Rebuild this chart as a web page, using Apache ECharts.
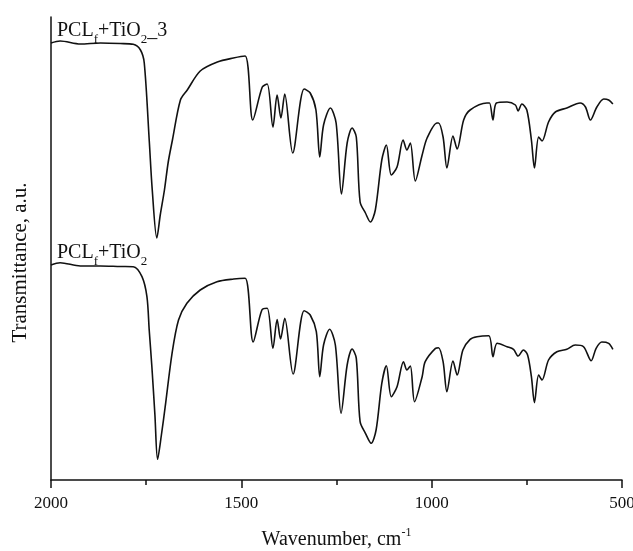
<!DOCTYPE html>
<html>
<head>
<meta charset="utf-8">
<script src="https://cdn.jsdelivr.net/npm/echarts@6/dist/echarts.min.js"></script>
<style>
  html, body { margin: 0; padding: 0; background: #fff; }
  #main { width: 633px; height: 551px; }
</style>
</head>
<body>
<div id="main"></div>
<script>
// FTIR spectra, wavenumber (cm-1) vs transmittance (a.u., offset traces)
var wnTop = [2000, 1976, 1923, 1870, 1818, 1784, 1765, 1755, 1742, 1734, 1722, 1713, 1702, 1692, 1681,
  1660, 1642, 1608, 1563, 1521, 1490, 1470, 1445, 1432, 1417, 1406, 1396, 1386, 1365, 1335, 1319,
  1304, 1294, 1284, 1266, 1251, 1237, 1222, 1209, 1198, 1188, 1174, 1161, 1148, 1131, 1119, 1106,
  1091, 1075, 1065, 1056, 1043, 1025, 1012, 986, 982, 970, 960, 944, 933, 916, 899, 855, 848, 839,
  830, 802, 780, 773, 763, 750, 738, 730, 719, 710, 693, 675, 645, 610, 596, 583, 566, 548, 535, 524];
var tTop = [437, 439, 436, 437, 436.5, 435.7, 430, 417, 340, 290, 242, 265, 290, 318, 340,
  380, 390, 409, 418, 422, 424, 360, 393, 396, 353, 385, 362, 386, 327, 391, 387,
  370, 323, 355, 372, 357, 286, 337, 352, 343, 278, 267, 258, 270, 320, 335, 305,
  313, 340, 330, 337, 299, 325, 342, 357, 357, 343, 312, 344, 331, 360, 370, 377, 377, 360,
  377, 378, 375, 369, 376, 370, 340, 312, 343, 339, 358, 368, 372, 377, 373, 360, 373, 381, 380, 376];

var wnBottom = [2000, 1976, 1923, 1870, 1818, 1784, 1761, 1748, 1742, 1735, 1727, 1720, 1710, 1700, 1682,
  1665, 1643, 1608, 1564, 1520, 1490, 1469, 1446, 1432, 1417, 1406, 1397, 1386, 1364, 1335, 1319,
  1303, 1294, 1284, 1268, 1253, 1238, 1222, 1209, 1198, 1188, 1174, 1159, 1146, 1131, 1119, 1106,
  1091, 1074, 1065, 1056, 1045, 1025, 1017, 990, 982, 970, 960, 944, 933, 918, 899, 881, 850, 839,
  828, 802, 785, 773, 759, 748, 738, 730, 719, 710, 693, 671, 645, 623, 601, 581, 568, 553, 535, 524];
var tBottom = [215, 217.3, 214, 214, 213.5, 213.3, 203.3, 183.3, 150, 113.3, 65, 20.7, 45, 73.3, 126.7,
  160, 176.7, 190, 198.3, 201, 201.7, 138, 170, 171.7, 131.7, 160.5, 141, 161.7, 106, 169.3, 165,
  148.3, 103.3, 135, 150.7, 135, 66.7, 115, 131, 121.7, 58.3, 46.7, 36.7, 50, 96.7, 114.3, 83.3,
  93.3, 118.3, 110, 114, 78.3, 103.3, 118.3, 131.7, 132.3, 118.3, 88.3, 119, 105, 130, 140.7, 143.3, 144.3, 123.3,
  136.7, 133.3, 130.7, 124, 130, 125, 103.3, 77.3, 105, 100, 120, 128.3, 130.7, 135, 133.3, 119.3, 131.7, 138, 136.7, 130.7];

var seriesNames = ['PCLf+TiO2_3', 'PCLf+TiO2'];
var seriesLabels = ['{n|PCL}{s|f}{n|+TiO}{s|2}{n|_3}', '{n|PCL}{s|f}{n|+TiO}{s|2}'];

var serif = 'Liberation Serif, Times New Roman, serif';

function pairs(xs, ys) {
  return xs.map(function (x, i) { return [x, ys[i]]; });
}

function makeSeries(idx, xs, ys) {
  return {
    name: seriesNames[idx],
    type: 'line',
    showSymbol: false,
    symbol: 'none',
    smooth: 0.3,
    lineStyle: { color: '#111', width: 1.6 },
    data: pairs(xs, ys),
    markPoint: {
      symbol: 'circle',
      symbolSize: 0,
      data: [{ coord: [xs[0], ys[0]] }],
      label: {
        show: true,
        position: [6, 0],
        align: 'left',
        verticalAlign: 'bottom',
        formatter: seriesLabels[idx],
        rich: {
          n: { fontFamily: serif, fontSize: 20, color: '#111', lineHeight: 22, verticalAlign: 'top' },
          s: { fontFamily: serif, fontSize: 13, color: '#111', lineHeight: 13, padding: [12, 0, 0, 0], verticalAlign: 'top' }
        }
      }
    }
  };
}

var myChart = echarts.init(document.getElementById('main'));
var option = {
  animation: false,
  backgroundColor: '#fff',
  grid: { left: 51, right: 11, top: 17, bottom: 71, containLabel: false, outerBoundsMode: 'none' },
  xAxis: {
    type: 'value',
    inverse: true,
    min: 500,
    max: 2000,
    interval: 500,
    name: '{n|Wavenumber, cm}{sup|-1}',
    nameLocation: 'middle',
    nameGap: 47,
    nameTextStyle: {
      rich: {
        n: { fontFamily: serif, fontSize: 20, color: '#111', lineHeight: 23, verticalAlign: 'bottom' },
        sup: { fontFamily: serif, fontSize: 12, color: '#111', lineHeight: 12, verticalAlign: 'top' }
      }
    },
    axisLine: { show: true, lineStyle: { color: '#111', width: 1.5 } },
    axisTick: { show: true, inside: false, length: 8, lineStyle: { color: '#111', width: 1.5 } },
    minorTick: { show: true, splitNumber: 2, length: 5, lineStyle: { color: '#111', width: 1.5 } },
    axisLabel: {
      fontFamily: serif, fontSize: 17, color: '#111', margin: 15,
      formatter: function (v) { return String(v); }
    },
    splitLine: { show: false }
  },
  yAxis: {
    type: 'value',
    min: 0,
    max: 463,
    name: 'Transmittance, a.u.',
    nameLocation: 'middle',
    nameGap: 20,
    nameTextStyle: { fontFamily: serif, fontSize: 21, color: '#111', padding: [0, 28, 0, 0] },
    axisLine: { show: true, lineStyle: { color: '#111', width: 1.5 } },
    axisTick: { show: false },
    axisLabel: { show: false },
    splitLine: { show: false }
  },
  series: [
    makeSeries(0, wnTop, tTop),
    makeSeries(1, wnBottom, tBottom)
  ]
};

myChart.setOption(option);
window.onresize = function () {
  myChart.resize();
};
</script>
</body>
</html>
